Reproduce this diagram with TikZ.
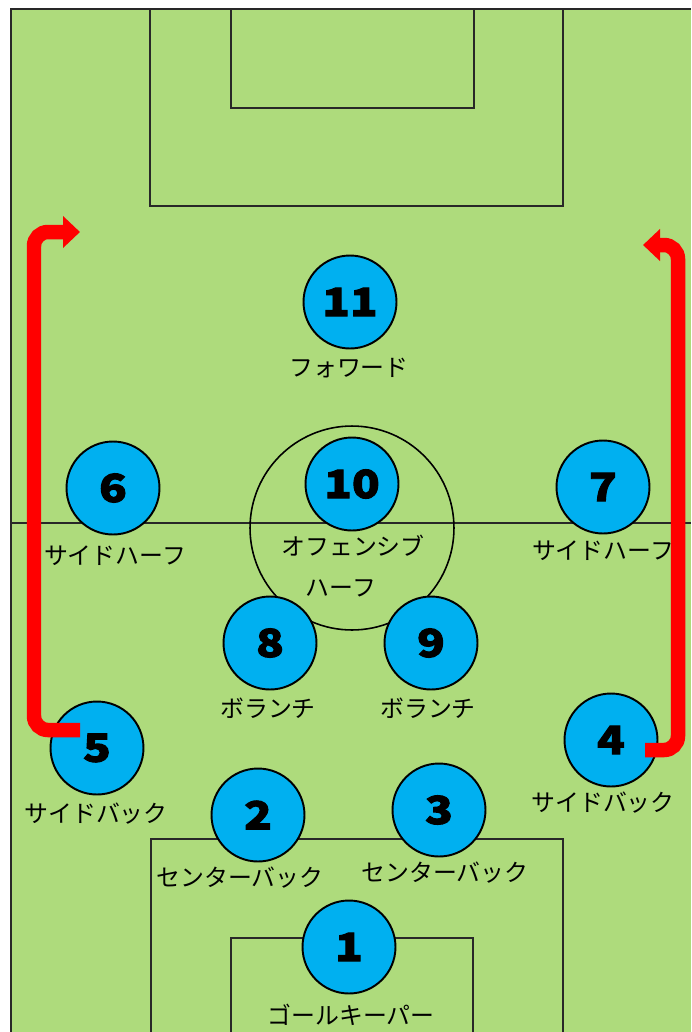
\documentclass[tikz,border=0pt]{standalone}
\usepackage{fontspec}
\newfontfamily\cjk{Noto Sans CJK JP}
\newfontfamily\numfont[BoldFeatures={FakeBold=2.5,FakeStretch=1.18}]{Noto Sans CJK JP}
\usetikzlibrary{arrows.meta,positioning}
\definecolor{pitch}{RGB}{174,219,124}
\definecolor{shirt}{RGB}{0,176,240}
\definecolor{runred}{RGB}{255,0,0}
\definecolor{chalk}{RGB}{40,40,40}
\tikzset{
  fieldline/.style={draw=chalk, line width=1.1pt},
  player/.style={circle, draw=black, line width=1.1pt, fill=shirt, minimum size=1.86cm, inner sep=0pt, font=\numfont\bfseries\fontsize{22}{22}\selectfont},
  role/.style={inner sep=0pt, font=\cjk\fontsize{13.6}{14}\selectfont},
  runarrow/.style={draw=runred, line width=0.29cm, rounded corners=0.28cm, -{Triangle[length=0.34cm,width=0.62cm]}}
}

\begin{document}
\begin{tikzpicture}[x=0.02cm, y=-0.02cm]
	\fill[white] (0,0) rectangle (691,1032);
	\useasboundingbox (0,0) rectangle (691,1032);
	\fill[pitch] (11,9) rectangle (691,1032);
	% pitch lines
	\draw[fieldline] (11,1032) -- (11,9) -- (691,9);
	\draw[fieldline] (150,9) rectangle (563,206);
	\draw[fieldline] (231,9) rectangle (474,108);
	\draw[fieldline] (11,523) -- (691,523);
	\draw[line width=0.9pt] (352,528) circle (2.04cm);
	\draw[fieldline] (151,1032) -- (151,839) -- (563,839) -- (563,1032);
	\draw[fieldline] (231,1032) -- (231,938) -- (473,938) -- (473,1032);
	% players
	\foreach \n/\x/\y/\lx/\ly/\t in {11/350/302/349/368/フォワード,
		10/352/484/353/546/オフェンシブ, 6/113/488/115/556/サイドハーフ,
		7/603/487/603/551/サイドハーフ, 8/270/643/268/708/ボランチ,
		9/431/643/428/708/ボランチ, 5/97/748/96/814/サイドバック,
		4/611/740/603/803/サイドバック, 2/258/815/240/878/センターバック,
		3/439/810/445/873/センターバック, 1/349/947/351/1015/ゴールキーパー}
	{
		\node[player] (p\n) at (\x,\y) {\n};
		\node[role] (l\n) at (\lx,\ly) {\t};
	}
	\node[role] (l10b) at (341,588) {ハーフ};
	% overlapping runs
	\coordinate (from5) at (80,730);
	\coordinate (to5) at (80,232);
	\coordinate (from4) at (645,750);
	\coordinate (to4) at (643,245);
	\draw[runarrow] (from5) -- ++(-46,0) |- (to5);
	\draw[runarrow] (from4) -- ++(33,0) |- (to4);
\end{tikzpicture}
\end{document}
